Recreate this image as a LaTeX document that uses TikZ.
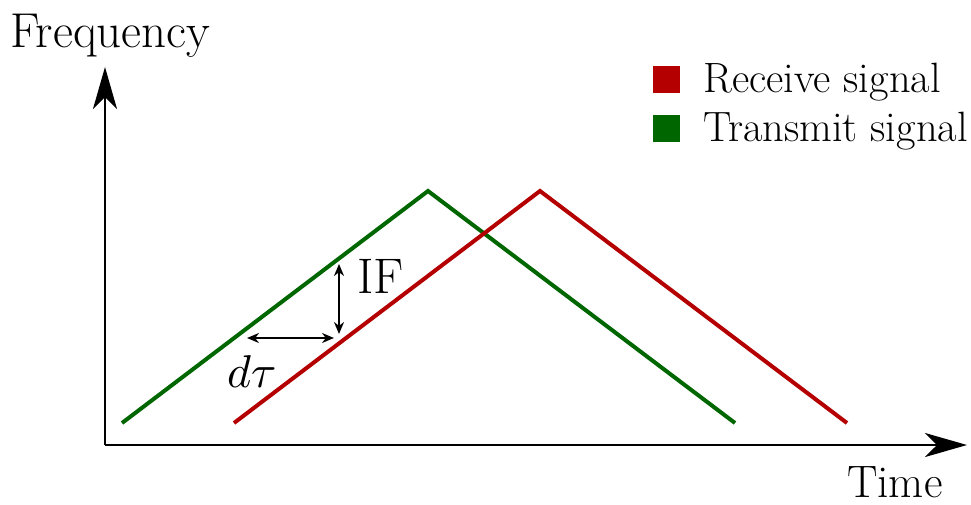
\documentclass[tikz,border=0pt]{standalone}
\usetikzlibrary{arrows.meta}
\definecolor{rxred}{RGB}{180,0,0}
\definecolor{txgreen}{RGB}{0,102,0}
\begin{document}
\begin{tikzpicture}[x=1pt,y=-1pt,
  axis/.style={line width=2.5pt,-{Stealth[length=42pt,width=24pt,inset=12pt]}},
  sig/.style={line width=4pt},
  dim/.style={line width=2pt,{Stealth[length=12pt,width=10pt]}-{Stealth[length=12pt,width=10pt]}},
  lbl/.style={inner sep=0pt,anchor=base west},
  key/.style={minimum size=27pt,inner sep=0pt}]
\useasboundingbox (0,0) rectangle (971,504);
% axes
\coordinate (O) at (105,445);
\coordinate (ytip) at (105,67);
\coordinate (xtip) at (967,445);
\draw[axis] (O) -- (ytip);
\draw[axis] (O) -- (xtip);
\node[lbl,font=\fontsize{49}{54}\selectfont] (freq) at (10,47) {Frequency};
\node[lbl,font=\fontsize{45.5}{50}\selectfont] (time) at (847,497) {Time};
% signals
\coordinate (t0) at (122,423); \coordinate (t1) at (428,191); \coordinate (t2) at (735,423);
\coordinate (r0) at (234,423); \coordinate (r1) at (540,191); \coordinate (r2) at (847,423);
\draw[sig,txgreen] (t0) -- (t1) -- (t2);
\draw[sig,rxred] (r0) -- (r1) -- (r2);
% dimensions
\coordinate (ifa) at (339,264); \coordinate (ifb) at (339,334);
\coordinate (dta) at (247,338); \coordinate (dtb) at (334,338);
\draw[dim] (ifa) -- (ifb);
\draw[dim] (dta) -- (dtb);
\node[lbl,font=\fontsize{50}{55}\selectfont] (if) at (357,293) {IF};
\node[lbl] (dtau) at (227,387) {\scalebox{4.6}{$d\tau$}};
% legend
\node[key,fill=rxred] (kr) at (666,79) {};
\node[key,fill=txgreen] (kt) at (666,128) {};
\node[lbl,font=\fontsize{42.4}{46}\selectfont] (lr) at (703,92) {Receive signal};
\node[lbl,font=\fontsize{42.4}{46}\selectfont] (lt) at (703,141) {Transmit signal};
\end{tikzpicture}
\end{document}
